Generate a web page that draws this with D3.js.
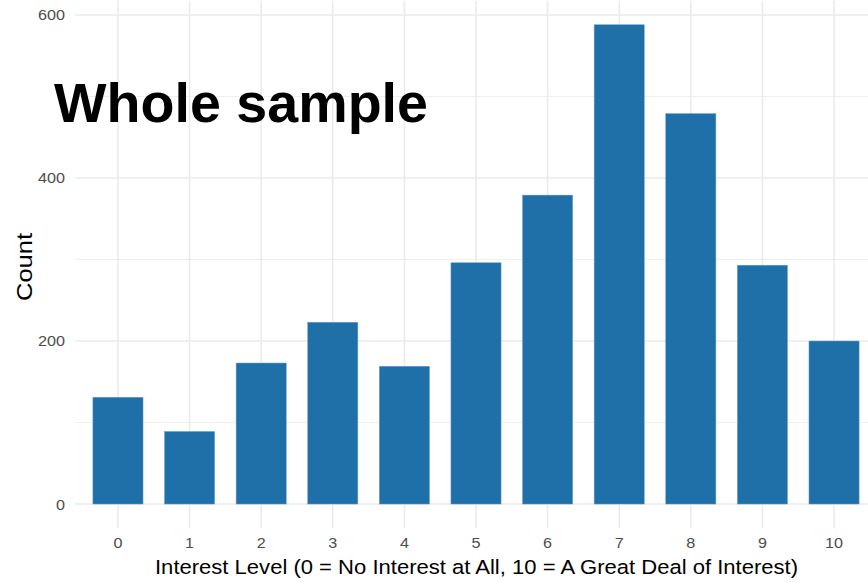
<!DOCTYPE html>
<html><head><meta charset="utf-8">
<script src="https://cdn.jsdelivr.net/npm/d3@7"></script>
<style>body{margin:0;background:#fff}svg{display:block}</style>
</head><body>
<svg id="c" width="868" height="583"></svg>
<script>
(function(){
const categories = ["0","1","2","3","4","5","6","7","8","9","10"];
const counts = [131, 89, 173, 223, 169, 296, 379, 588, 479, 293, 200];
const yTicks = [0, 200, 400, 600];
const yMinor = [100, 300, 500];
const title = "Whole sample";
const xTitle = "Interest Level (0 = No Interest at All, 10 = A Great Deal of Interest)";
const yTitle = "Count";

const svg = d3.select("#c");
const FONT = "Liberation Sans, Arial, Helvetica, sans-serif";
const pLeft = 75, pRight = 877, pTop = 0.8, pBottom = 528;
const x = d3.scaleBand().domain(categories).range([pLeft, pRight]).paddingInner(0.3).paddingOuter(0.25);
const y = d3.scaleLinear().domain([-29.4, 617.4]).range([pBottom, pTop]);

const grid = svg.append("g");
grid.selectAll(".minor").data(yMinor).join("line")
  .attr("x1", pLeft).attr("x2", 868).attr("y1", d => y(d)).attr("y2", d => y(d))
  .attr("stroke", "#ebebeb").attr("stroke-width", 0.8);
grid.selectAll(".major").data(yTicks).join("line")
  .attr("x1", pLeft).attr("x2", 868).attr("y1", d => y(d)).attr("y2", d => y(d))
  .attr("stroke", "#ebebeb").attr("stroke-width", 1.6);
grid.selectAll(".vx").data(categories).join("line")
  .attr("x1", d => x(d) + x.bandwidth()/2).attr("x2", d => x(d) + x.bandwidth()/2)
  .attr("y1", pTop).attr("y2", pBottom)
  .attr("stroke", "#ebebeb").attr("stroke-width", 1.6);

svg.append("g").selectAll("rect").data(categories).join("rect")
  .attr("x", d => x(d)).attr("width", x.bandwidth())
  .attr("y", (d, i) => y(counts[i])).attr("height", (d, i) => y(0) - y(counts[i]))
  .attr("fill", "#1f6fa8").attr("stroke", "#6a9fc8").attr("stroke-width", 0.5);

const yAxis = d3.axisLeft(y).tickValues(yTicks).tickSize(0).tickPadding(10);
const gy = svg.append("g").attr("transform", `translate(${pLeft},0)`).call(yAxis);
gy.select(".domain").remove();
gy.selectAll("text").attr("font-family", FONT).attr("font-size", 15.5).attr("fill", "#4d4d4d")
  .attr("textLength", d => String(d).length * 9).attr("lengthAdjust", "spacingAndGlyphs");

const xAxis = d3.axisBottom(x).tickSize(0).tickPadding(10);
const gx = svg.append("g").attr("transform", `translate(0,${pBottom})`).call(xAxis);
gx.select(".domain").remove();
gx.selectAll("text").attr("font-family", FONT).attr("font-size", 14.5).attr("fill", "#4d4d4d")
  .attr("textLength", d => String(d).length * 9).attr("lengthAdjust", "spacingAndGlyphs");

svg.append("text").attr("x", 476.5).attr("y", 573.5).attr("text-anchor", "middle")
  .attr("font-family", FONT).attr("font-size", 20.5).attr("fill", "#000")
  .attr("textLength", 643).attr("lengthAdjust", "spacingAndGlyphs")
  .text(xTitle);
svg.append("text").attr("transform", "translate(31.5,267) rotate(-90)").attr("text-anchor", "middle")
  .attr("font-family", FONT).attr("font-size", 21.5).attr("fill", "#000")
  .attr("textLength", 68).attr("lengthAdjust", "spacingAndGlyphs")
  .text(yTitle);
svg.append("text").attr("x", 54).attr("y", 121.7).attr("font-weight", "bold")
  .attr("font-family", FONT).attr("font-size", 56).attr("fill", "#000")
  .attr("textLength", 374).attr("lengthAdjust", "spacingAndGlyphs")
  .text(title);
})();
</script>
</body></html>
